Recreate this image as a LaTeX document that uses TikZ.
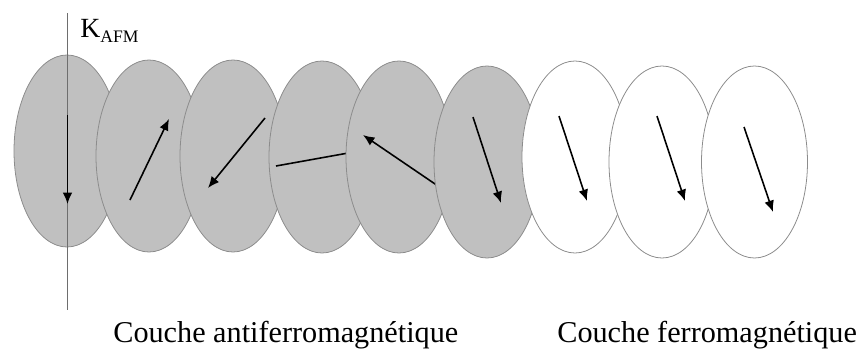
\documentclass[tikz,border=0pt]{standalone}
\usepackage{fontspec}
\setmainfont{Liberation Serif}
\usepackage{xcolor}
\usepackage{tikz}
\usetikzlibrary{arrows.meta,shapes.geometric}

\definecolor{afmgrey}{RGB}{192,192,192}
\definecolor{rimgrey}{RGB}{140,140,140}
\definecolor{axisgrey}{RGB}{110,110,110}

\begin{document}
\begin{tikzpicture}[
    grain/.style={ellipse,draw=rimgrey,line width=0.45pt,inner sep=0pt,
        minimum width=2.12cm,minimum height=3.84cm},
    afm/.style={grain,fill=afmgrey},
    fm/.style={grain,fill=white},
    spin/.style={-{Latex[length=6.5pt,width=5.5pt]},line width=0.9pt},
    caption/.style={anchor=base west,inner sep=0pt,font=\fontsize{17.2pt}{20pt}\selectfont}
]
    \useasboundingbox (0,0) rectangle (17.22,7.12);

    \node[afm] (e1) at (1.34,4.10) {};
    \coordinate (axtop) at (1.35,6.86);
    \coordinate (axbot) at (1.35,0.92);
    \draw[axisgrey,line width=0.4pt] (axtop) to (axbot);
    \draw[spin] (1.35,4.82) to (1.35,3.04);
    \node[afm] (e2) at (2.98,4.00) {};
    \draw[spin] (2.60,3.12) to (3.38,4.74);
    \node[afm] (e3) at (4.66,4.00) {};
    \draw[spin] (5.30,4.76) to (4.16,3.36);
    \node[afm] (e4) at (6.44,3.98) {};
    \draw[spin] (5.52,3.80) to (7.30,4.12);
    \node[afm] (e5) at (7.98,3.98) {};
    \draw[spin] (8.76,3.40) to (7.26,4.42);
    \node[afm] (e6) at (9.74,3.88) {};
    \draw[spin] (9.46,4.78) to (10.02,3.06);
    \node[fm] (e7) at (11.50,3.98) {};
    \draw[spin] (11.18,4.80) to (11.74,3.10);
    \node[fm] (e8) at (13.24,3.88) {};
    \draw[spin] (13.14,4.80) to (13.70,3.10);
    \node[fm] (e9) at (15.09,3.88) {};
    \draw[spin] (14.88,4.58) to (15.46,2.88);

    \node[anchor=base west,inner sep=0pt,font=\fontsize{15.8pt}{18pt}\selectfont] (kafm) at (1.60,6.38)
        {K\raisebox{-3.4pt}{\fontsize{10pt}{12pt}\selectfont AFM}};

    \node[caption] (afmtxt) at (2.26,0.28) {Couche antiferromagnétique};
    \node[caption] (fmtxt) at (11.14,0.28) {Couche ferromagnétique};
\end{tikzpicture}
\end{document}
